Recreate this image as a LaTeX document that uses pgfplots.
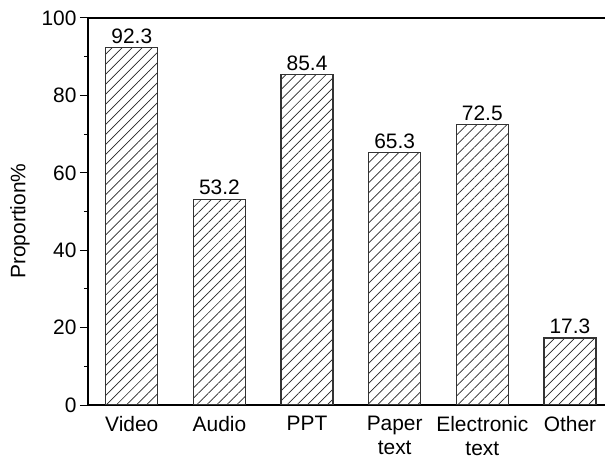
\documentclass[border=0pt]{standalone}
\usepackage{pgfplots}
\pgfplotsset{compat=1.18}
\usepackage{fontspec}
\setmainfont{Liberation Sans}
\usetikzlibrary{patterns.meta}

\begin{document}
\begin{tikzpicture}
\begin{axis}[
    at={(0,0)}, anchor=south west,
    scale only axis,
    width=517bp, height=387bp,
    xmin=-0.5, xmax=5.4,
    ymin=0, ymax=100,
    axis x line*=box,
    axis y line*=left,
    axis line style={line width=1.6bp},
    xtick=data,
    xticklabels={Video, Audio, PPT, Paper\\text, Electronic\\text, Other},
    x tick label style={align=center, font=\fontsize{21}{24}\selectfont},
    x tick style={draw=none},
    ytick={0,20,40,60,80,100},
    minor y tick num=1,
    ytick pos=left,
    tick align=outside,
    major tick length=8bp,
    minor tick length=4bp,
    y tick style={line width=1bp, black},
    y tick label style={font=\fontsize{21}{24}\selectfont},
    /pgf/number format/assume math mode=true,
    ylabel={Proportion\%},
    ylabel style={at={(axis description cs:-0.1315,0.475)}, anchor=center,
        font=\fontsize{21}{24}\selectfont},
    ybar,
    bar width=52bp,
    nodes near coords,
    nodes near coords style={font=\fontsize{21}{24}\selectfont,
        /pgf/number format/fixed, /pgf/number format/precision=1,
        /pgf/number format/fixed zerofill},
]
\addplot[draw=black!80, line width=1.2bp,
    pattern={Lines[angle=45,distance=7.1bp,line width=0.7bp]},
    pattern color=black!85]
    coordinates {(0,92.3) (1,53.2) (2,85.4) (3,65.3) (4,72.5) (5,17.3)};
\end{axis}
\pgfresetboundingbox
\path (-88bp,-56bp) rectangle (517bp,405bp);
\end{tikzpicture}
\end{document}
